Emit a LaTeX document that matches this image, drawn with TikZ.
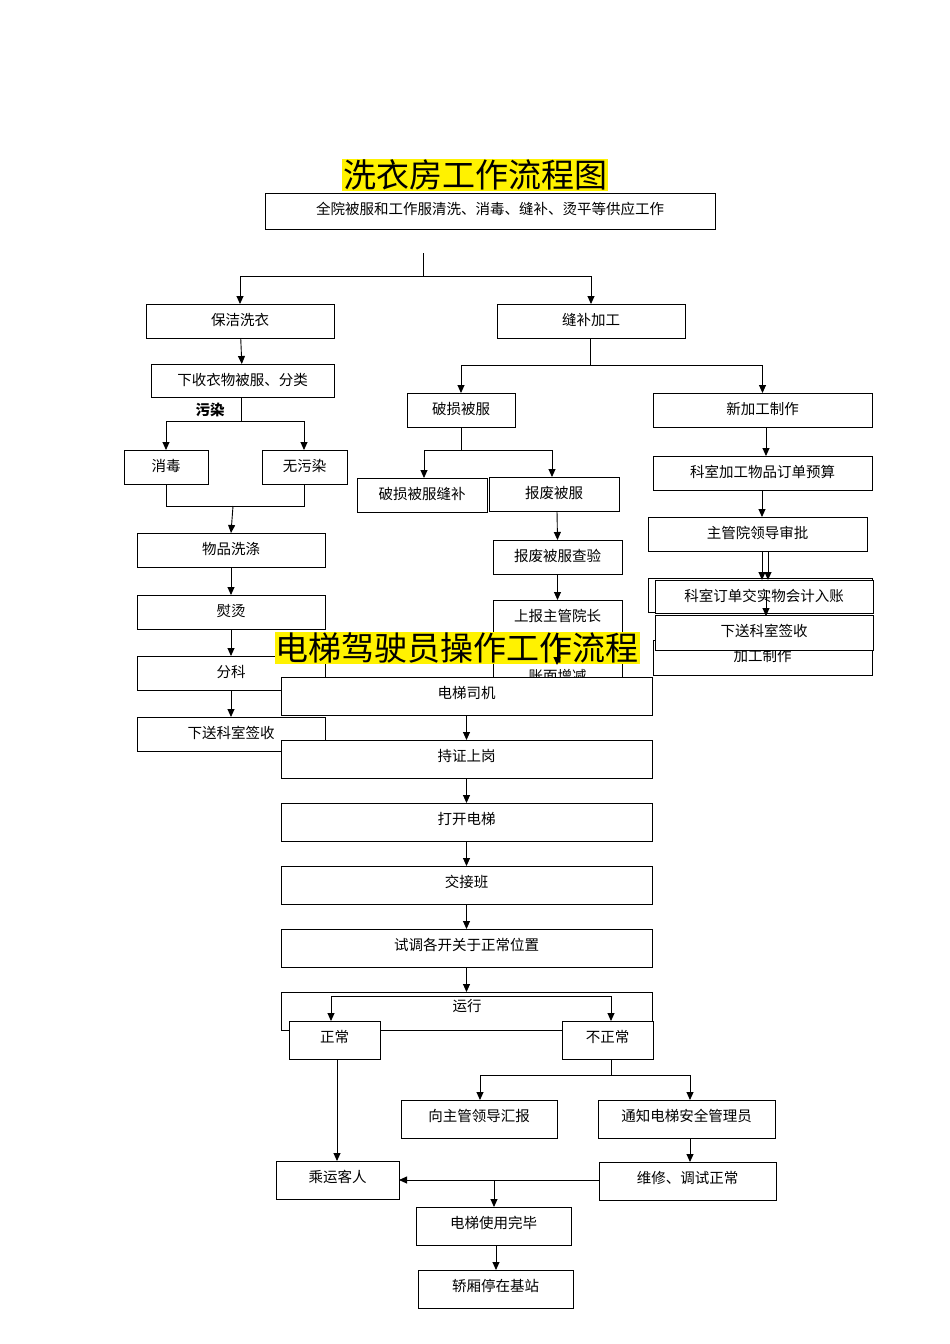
\documentclass[tikz,border=0pt]{standalone}
\usepackage{fontspec}
\newfontfamily\cjk{Noto Sans CJK SC}
\usetikzlibrary{arrows.meta}
\newcommand{\bx}[6]{%
  \pgfmathsetmacro{\bw}{#4-#2}\pgfmathsetmacro{\bh}{#5-#3}%
  \pgfmathsetmacro{\bcx}{(#2+#4)/2}\pgfmathsetmacro{\bcy}{(#3+#5)/2}%
  \node[box,minimum width=\bw pt,minimum height=\bh pt] (#1) at (\bcx,\bcy) {};
  \node[txt] at (\bcx,#3+16) {#6};}
\begin{document}
\begin{tikzpicture}[x=1pt,y=-1pt,
  box/.style={draw,fill=white,line width=0.9pt,inner sep=0pt,outer sep=0pt},
  txt/.style={font=\cjk\fontsize{14.5}{17}\selectfont,inner sep=0pt},
  arr/.style={line width=0.9pt,-{Triangle[length=8pt,width=7pt]}},
  ln/.style={line width=0.9pt},
  ttl/.style={fill=yellow,font=\cjk\fontsize{33}{36}\selectfont,inner sep=1pt}]
\useasboundingbox[fill=white] (0,0) rectangle (950,1344);
% ---- laundry ----
\node[ttl] (t1) at (475,175) {洗衣房工作流程图};
\bx{a}{265}{193}{715}{229}{全院被服和工作服清洗、消毒、缝补、烫平等供应工作}
\coordinate (s1) at (423,253);
\draw[ln] (s1) -- (423,276);
\bx{bj}{146}{304}{334}{338}{保洁洗衣}
\bx{fb}{497}{304}{685}{338}{缝补加工}
\draw[arr] (423,276) -| (bj.north);
\draw[arr] (423,276) -| (fb.north);
\bx{xs}{151}{364}{334}{397}{下收衣物被服、分类}
\draw[arr] (bj) -- (xs);
\bx{xd}{124}{450}{208}{484}{消毒}
\bx{wr}{262}{450}{347}{484}{无污染}
\draw[ln] (241,397) -- (241,421);
\draw[arr] (241,421) -| (166,450);
\draw[arr] (241,421) -| (304,450);
\node[font=\cjk\bfseries\fontsize{14.5}{17}\selectfont] (wr2) at (210,410) {污染};
\draw[ln] (166,484) |- (304,506) -- (304,484);
\bx{wp}{137}{533}{325}{567}{物品洗涤}
\draw[arr] (233,506) -- (wp.north);
\bx{yt}{137}{595}{325}{629}{熨烫}
\draw[arr] (wp) -- (yt);
\bx{fk}{137}{656}{325}{690}{分科}
\draw[arr] (yt) -- (fk);
\bx{xk}{137}{717}{325}{751}{下送科室签收}
\draw[arr] (fk) -- (xk);
% right branch
\draw[ln] (590,338) -- (590,365);
\bx{ps}{407}{393}{515}{427}{破损被服}
\bx{xj}{653}{393}{872}{427}{新加工制作}
\draw[arr] (590,365) -| (ps.north);
\draw[arr] (590,365) -| (xj.north);
\draw[ln] (461,427) -- (461,450);
\bx{pf}{357}{478}{487}{512}{破损被服缝补}
\bx{bf}{489}{477}{619}{511}{报废被服}
\draw[arr] (461,450) -| (424,478);
\draw[arr] (461,450) -| (552,477);
\bx{cy}{493}{540}{622}{574}{报废被服查验}
\draw[arr] (557,511) -- (cy.north);
\bx{sb}{493}{600}{622}{634}{上报主管院长}
\draw[arr] (cy) -- (sb);
\bx{zm}{493}{660}{622}{700}{账面增减}
\bx{ys}{653}{456}{872}{490}{科室加工物品订单预算}
\draw[arr] (766,427) -- (ys.north -| 766,0);
\bx{sp}{648}{517}{867}{551}{主管院领导审批}
\draw[arr] (762,490) -- (762,517);
\bx{jg}{653}{640}{872}{675}{加工制作}
\node[box,minimum width=224pt,minimum height=34pt] (bk) at (760,595) {};
\bx{dd}{655}{580}{873}{613}{科室订单交实物会计入账}
\draw[arr] (762,551) -- (762,580);
\draw[arr] (768,551) -- (768,580);
\bx{xs2}{655}{615}{873}{650}{下送科室签收}
\draw[arr] (766,590) -- (766,616);
% ---- elevator ----
\node[ttl] (t2) at (457,648) {电梯驾驶员操作工作流程};
\draw[arr] (557,634) -- (557,665);
\bx{sj}{281}{677}{652}{715}{电梯司机}
\bx{cz}{281}{740}{652}{778}{持证上岗}
\draw[arr] (sj) -- (cz);
\bx{dk}{281}{803}{652}{841}{打开电梯}
\draw[arr] (cz) -- (dk);
\bx{jj}{281}{866}{652}{904}{交接班}
\draw[arr] (dk) -- (jj);
\bx{st}{281}{929}{652}{967}{试调各开关于正常位置}
\draw[arr] (jj) -- (st);
\bx{yx}{281}{992}{652}{1030}{}
\node[txt] at (467,1006) {运行};
\draw[arr] (st) -- (yx);
\bx{zc}{289}{1021}{380}{1059}{正常}
\bx{bz}{562}{1021}{653}{1059}{不正常}
\draw[arr] (467,996) -| (331,1021);
\draw[arr] (467,996) -| (611,1021);
\draw[ln] (611,1059) -- (611,1075);
\bx{hb}{401}{1100}{557}{1138}{向主管领导汇报}
\bx{tz}{598}{1100}{775}{1138}{通知电梯安全管理员}
\draw[arr] (611,1075) -| (480,1100);
\draw[arr] (611,1075) -| (690,1100);
\bx{wx}{599}{1162}{776}{1200}{维修、调试正常}
\draw[arr] (690,1138) -- (690,1162);
\bx{ck}{276}{1161}{399}{1199}{乘运客人}
\draw[arr] (wx.west |- 0,1180) -- (399,1180);
\draw[arr] (337,1059) -- (337,1161);
\bx{wb}{416}{1207}{571}{1245}{电梯使用完毕}
\draw[arr] (494,1180) -- (494,1207);
\bx{jx}{418}{1270}{573}{1308}{轿厢停在基站}
\draw[arr] (496,1245) -- (496,1270);
\end{tikzpicture}
\end{document}
